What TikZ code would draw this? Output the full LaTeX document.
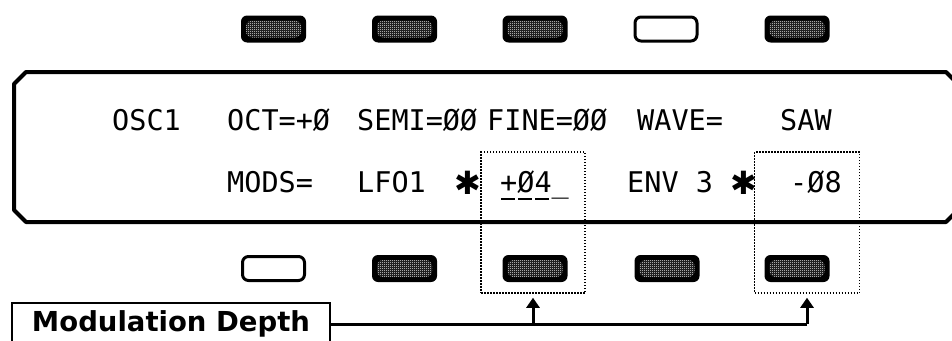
\documentclass[tikz,border=0pt]{standalone}
\usepackage{fontspec}
\usetikzlibrary{patterns,arrows.meta}
\newfontfamily\lcdfont{DejaVu Sans Mono}
\newfontfamily\symfont{DejaVu Sans}
\newfontfamily\lblfont{DejaVu Sans}
\pgfdeclarepatternformonly{finecheck}{\pgfpointorigin}{\pgfqpoint{2pt}{2pt}}{\pgfqpoint{2pt}{2pt}}{%
  \pgfpathrectangle{\pgfpointorigin}{\pgfqpoint{1pt}{1pt}}%
  \pgfpathrectangle{\pgfqpoint{1pt}{1pt}}{\pgfqpoint{1pt}{1pt}}%
  \pgfusepath{fill}}
\tikzset{
  frameline/.style={line width=4pt, line join=round},
  btnfull/.style={rectangle, rounded corners=6pt, fill=black, minimum width=65pt, minimum height=27pt, inner sep=0pt,
    path picture={\fill[pattern=finecheck, pattern color=white]
      ([shift={(5pt,5pt)}]path picture bounding box.south west) rectangle
      ([shift={(-5pt,-5pt)}]path picture bounding box.north east);}},
  btnempty/.style={rectangle, rounded corners=6pt, draw=black, line width=3pt, minimum width=62pt, minimum height=24pt, inner sep=0pt},
  dotbox/.style={rectangle, draw=black, line width=1.5pt, dash pattern=on 1.5pt off 1.5pt, inner sep=0pt},
  lcd/.style={font=\lcdfont\fontsize{28.5}{30}\selectfont, anchor=base west, inner sep=0pt},
  star/.style={font=\symfont\fontsize{32}{34}\selectfont, anchor=base west, inner sep=0pt},
  lblbox/.style={rectangle, draw=black, line width=2.5pt, minimum width=318pt, minimum height=42pt, inner sep=0pt,
    font=\lblfont\bfseries\fontsize{27.5}{29}\selectfont},
  conn/.style={line width=3pt},
  tip/.style={-{Triangle[width=13pt,length=10pt]}, shorten >=4pt},
  uline/.style={line width=2pt}
}
\begin{document}
\begin{tikzpicture}[x=1pt,y=-1pt]
\useasboundingbox (0,0) rectangle (952,340);
\clip (0,0) rectangle (952,340);
% display frame
\draw[frameline] (26,72) -- (946,72) -- (958,84) -- (958,210) -- (946,222) -- (26,222) -- (14,210) -- (14,84) -- cycle;
% dotted highlight boxes
\node[dotbox, minimum width=104pt, minimum height=141pt] (db1) at (533,222.5) {};
\node[dotbox, minimum width=105pt, minimum height=141pt] (db2) at (807,222.5) {};
% top buttons
\node[btnfull]  (t1) at (273.5,29) {};
\node[btnfull]  (t2) at (404.5,29) {};
\node[btnfull]  (t3) at (535,29) {};
\node[btnempty] (t4) at (666,29) {};
\node[btnfull]  (t5) at (797,29) {};
% bottom buttons
\node[btnempty] (b1) at (273.5,268.5) {};
\node[btnfull]  (b2) at (404.5,268.5) {};
\node[btnfull]  (b3) at (535,268.5) {};
\node[btnfull]  (b4) at (667,268.5) {};
\node[btnfull]  (b5) at (797,268.5) {};
% row 1
\node[lcd] (osc)  at (112,130) {OSC1};
\node[lcd] (oct)  at (227,130) {OCT=+Ø};
\node[lcd] (semi) at (357,130) {SEMI=ØØ};
\node[lcd] (fine) at (487,130) {FINE=ØØ};
\node[lcd] (wave) at (637,130) {WAVE=};
\node[lcd] (saw)  at (780,130) {SAW};
% row 2
\node[lcd] (mods) at (227,192) {MODS=};
\node[lcd] (lfo)  at (357,192) {LFO1};
\node[star] (s1)  at (454,194) {✱};
\node[lcd] (v1)   at (500,192) {+Ø4\_};
\node[lcd] (env)  at (627,192) {ENV 3};
\node[star] (s2)  at (730,194) {✱};
\node[lcd] (v2)   at (790,192) {-Ø8};
\draw[uline] ([xshift=1pt,yshift=-7pt]v1.base west) -- ++(14,0);
\draw[uline] ([xshift=18pt,yshift=-7pt]v1.base west) -- ++(14,0);
\draw[uline] ([xshift=35pt,yshift=-7pt]v1.base west) -- ++(14,0);
% label
\node[lblbox] (md) at (171,324) {Modulation Depth};
% connectors
\coordinate (j1) at (md.east -| db1.south);
\coordinate (j2) at (md.east -| db2.south);
\draw[conn] (md.east) -- (j2);
\draw[conn, tip] (j1) -- (db1.south);
\draw[conn, tip] (j2) -- (db2.south);
\end{tikzpicture}
\end{document}
